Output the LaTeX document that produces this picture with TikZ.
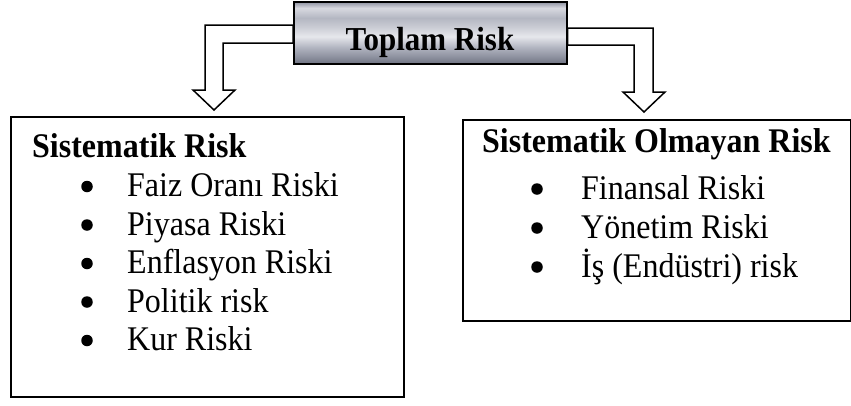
\documentclass[tikz,border=0pt]{standalone}
\usepackage{fontspec}
\usepackage{graphicx}
\setmainfont{Liberation Serif}
\definecolor{c1}{HTML}{8D91A0}
\definecolor{c2}{HTML}{D8D9E0}
\definecolor{c3}{HTML}{B4B7C2}
\definecolor{c4}{HTML}{C9CBD3}
\definecolor{c5}{HTML}{E6E7EC}
\definecolor{c6}{HTML}{B0B3BF}
\definecolor{c7}{HTML}{8A8E9C}
\definecolor{c8}{HTML}{6F7382}
\pgfdeclareverticalshading{chrome}{100bp}{color(0bp)=(c8); color(25bp)=(c8); color(30bp)=(c7); color(38bp)=(c6); color(47bp)=(c5); color(55bp)=(c4); color(62bp)=(c3); color(70bp)=(c2); color(75bp)=(c1); color(100bp)=(c1)}
\newcommand{\tallbox}[1]{\scalebox{1}[1.08]{#1}}
\tikzset{
  txt/.style={anchor=base west, inner sep=0pt, font=\fontsize{32}{38}\selectfont},
  ttl/.style={txt, font=\fontsize{32}{38}\selectfont\bfseries},
  blt/.style={circle, fill=black, inner sep=0pt, minimum size=11.5pt},
  frame/.style={draw=black, line width=1.6pt},
  blockarrow/.style={draw=black, fill=white, line width=1.5pt, line join=miter},
}
\begin{document}
\begin{tikzpicture}[x=1pt,y=-1pt]
\useasboundingbox (0,0) rectangle (851,405);
% top box
\node[frame, shading=chrome, minimum width=273pt, minimum height=62pt, inner sep=0pt, anchor=north west] (top) at (293,1) {};
\node[anchor=base, inner sep=0pt, font=\fontsize{31}{36}\selectfont\bfseries] (toptxt) at (430,50) {\tallbox{Toplam Risk}};
% block arrows
\draw[blockarrow] (top.west |- 0,25) -- (205,25) -- (205,90) -- (193,90) -- (214,110) -- (235,90) -- (223,90) -- (223,43) -- (top.west |- 0,43) -- cycle;
\draw[blockarrow] (top.east |- 0,28) -- (653,28) -- (653,92) -- (665,92) -- (644,112) -- (623,92) -- (634,92) -- (634,45) -- (top.east |- 0,45) -- cycle;
% left box
\draw[frame] (11,117) rectangle (404,397);
\node[ttl] (lt) at (32,157) {\tallbox{Sistematik Risk}};
\foreach \y/\t [count=\i] in {196.5/Faiz Oranı Riski, 235/Piyasa Riski, 273.5/Enflasyon Riski, 312/Politik risk, 350.5/Kur Riski}{
  \node[blt] (lb\i) at (87,\y-10) {};
  \node[txt] (li\i) at (127,\y) {\tallbox{\t}};
}
% right box
\draw[frame] (463,120) rectangle (850.5,321);
\node[ttl] (rt) at (482,152) {\tallbox{Sistematik Olmayan Risk}};
\foreach \y/\t [count=\i] in {199/Finansal Riski, 238/Yönetim Riski, 277/İş (Endüstri) risk}{
  \node[blt] (rb\i) at (537,\y-10) {};
  \node[txt] (ri\i) at (581,\y) {\tallbox{\t}};
}
\end{tikzpicture}
\end{document}
